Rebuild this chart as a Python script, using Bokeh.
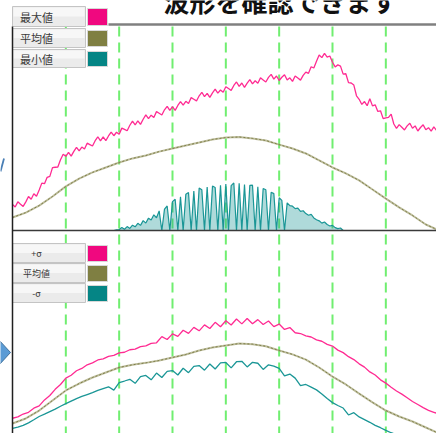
import numpy as np
from bokeh.plotting import figure
from bokeh.models import Range1d
from bokeh.embed import file_html
from bokeh.resources import INLINE
from bokeh.core.properties import value

# ---------------- data (grid divisions on x, amplitude units on y) ----------------
title_text = "波形を確認できます"
top_labels = ["最大値", "平均値", "最小値"]
bot_labels = ["+σ", "平均値", "-σ"]

# top panel: maximum (step 0.05 div)
top_max = [12.7, 11.4, 13.9, 12.8, 11.7, 13.9, 16.5, 15.2, 17.8, 16.6,
           19.7, 23.0, 22.7, 25.8, 26.3, 30.5, 30.7, 30.8, 34.3, 37.0,
           36.0, 37.9, 36.1, 38.4, 40.4, 38.7, 40.5, 39.6, 42.4, 41.7,
           41.0, 43.6, 45.5, 43.5, 45.4, 43.6, 45.9, 47.8, 46.0, 47.7,
           46.7, 49.7, 49.1, 48.4, 51.1, 53.1, 51.3, 53.2, 51.5, 54.0,
           56.1, 54.3, 56.0, 54.9, 57.7, 56.9, 56.1, 58.6, 60.3, 58.3,
           60.1, 58.3, 60.7, 62.6, 60.9, 62.7, 61.7, 64.5, 63.7, 62.9,
           65.4, 67.1, 65.0, 66.6, 64.6, 66.8, 68.6, 66.7, 68.2, 67.1,
           69.8, 68.9, 68.0, 70.4, 72.1, 70.0, 71.6, 69.5, 71.5, 73.2,
           71.2, 72.7, 71.5, 74.1, 73.1, 72.1, 74.3, 75.8, 73.5, 75.0,
           72.8, 74.4, 75.6, 73.1, 74.1, 72.4, 75.0, 74.0, 73.0, 75.3,
           76.9, 76.3, 79.5, 78.9, 82.2, 85.2, 83.9, 86.0, 84.2, 84.7,
           81.7, 79.4, 80.4, 79.8, 75.9, 76.1, 71.8, 71.6, 70.6, 65.4,
           63.7, 61.2, 62.6, 60.6, 64.0, 60.5, 61.0, 57.8, 58.1, 54.3,
           54.7, 54.9, 56.5, 51.7, 49.6, 51.4, 50.1, 48.8, 50.8, 52.1,
           49.6, 50.8, 48.3, 50.0, 51.3, 48.9, 49.9, 48.2, 50.3, 48.6]
top_max_step = 0.05

# top panel: mean (step 0.25 div)
top_mean = [6.3, 8.7, 12.1, 16.5, 21.4, 25.2, 28.2, 30.6, 33.0, 35.0,
            36.4, 38.3, 39.8, 41.3, 42.7, 44.2, 45.1, 45.4, 44.7, 43.7,
            41.7, 39.8, 37.4, 34.0, 30.6, 27.7, 24.3, 19.9, 15.5, 11.2,
            7.3, 2.9, 0.0]
top_mean_step = 0.25

# top panel: minimum (from 1.9 div, step 0.05 div)
top_min = [0.0, 0.3, 0.5, 1.5, 0.6, 1.9, 1.0, 2.6, 1.8, 3.5,
           2.5, 4.8, 3.6, 6.0, 5.1, 7.6, 6.2, 9.5, 0.0, 10.4,
           11.9, 0.0, 14.0, 15.2, 0.0, 16.3, 0.0, 17.6, 18.4, 0.0,
           19.2, 0.0, 20.6, 19.8, 0.0, 21.1, 0.0, 21.6, 20.9, 0.0,
           22.0, 0.0, 22.5, 0.0, 21.8, 23.1, 0.0, 22.9, 0.0, 22.3,
           0.0, 21.9, 22.0, 0.0, 21.2, 0.0, 20.4, 19.8, 0.0, 18.6,
           17.9, 0.0, 15.9, 14.6, 0.0, 13.4, 12.1, 11.8, 10.6, 10.9,
           9.3, 9.6, 8.2, 7.4, 7.8, 6.1, 5.2, 4.7, 3.6, 4.1,
           2.9, 2.2, 2.5, 1.4, 0.9, 1.2, 0.0]
top_min_start = 1.9
top_min_step = 0.05

# bottom panel: +sigma (step 0.1 div)
bot_plus = [7.9, 8.6, 10.1, 11.0, 13.1, 14.3, 17.4, 19.7, 22.9, 25.4,
            28.7, 30.2, 32.5, 33.7, 35.6, 36.6, 38.1, 38.7, 40.0, 40.5,
            41.8, 42.1, 43.4, 43.7, 45.0, 45.4, 46.7, 47.0, 50.2, 48.7,
            51.6, 50.3, 53.5, 51.9, 55.0, 53.2, 56.3, 54.4, 57.6, 55.3,
            58.4, 56.2, 59.3, 56.8, 59.6, 56.9, 59.0, 56.5, 58.3, 55.4,
            56.7, 53.9, 54.9, 52.2, 51.8, 50.6, 50.0, 48.5, 47.8, 46.2,
            45.3, 43.2, 41.9, 39.8, 38.3, 36.1, 34.4, 31.9, 30.3, 27.8,
            26.1, 24.0, 22.0, 20.4, 18.5, 16.6, 15.0, 13.4, 12.0, 11.0,
            10.0]
bot_plus_step = 0.1

# bottom panel: mean (step 0.25 div)
bot_mean = [5.2, 7.8, 11.9, 17.1, 22.3, 25.9, 29.0, 31.6, 34.2, 35.6,
            36.6, 37.8, 39.4, 40.9, 43.0, 44.6, 45.6, 46.6, 46.3, 45.2,
            43.0, 41.0, 38.3, 34.2, 29.5, 25.4, 20.7, 16.1, 11.9, 8.8,
            6.2, 3.1, 0.0]
bot_mean_step = 0.25

# bottom panel: -sigma (step 0.1 div)
bot_minus = [2.6, 3.3, 4.2, 5.5, 7.1, 8.8, 10.0, 11.3, 12.6, 14.1,
             15.5, 16.8, 18.1, 19.2, 20.2, 21.2, 22.3, 23.3, 24.2, 22.5,
             26.4, 27.2, 28.1, 26.0, 29.5, 30.1, 27.8, 31.3, 29.0, 32.2,
             32.6, 30.3, 33.8, 31.5, 34.8, 35.2, 32.8, 36.0, 33.4, 36.6,
             36.8, 34.0, 37.2, 37.4, 34.5, 36.9, 36.4, 33.2, 35.6, 34.9,
             33.7, 29.8, 30.8, 28.7, 24.8, 25.4, 24.0, 22.6, 20.5, 18.1,
             16.0, 14.5, 13.2, 9.6, 10.8, 8.6, 7.2, 5.8, 4.2, 3.0,
             1.6, 0.4, -0.6, -1.8, -3.0]
bot_minus_step = 0.1

divisions = [1, 2, 3, 4, 5, 6, 7]

# ---------------- layout ----------------
W, H = 436, 433
DIV = 53.333          # pixels per division
X0 = 12               # pixel of x = 0
TOP_BASE, TOP_SCALE = 230, 2.06
BOT_BASE, BOT_SCALE = 433, 1.93

PINK = "#FF2B92"
PINK_SW = "#F0087F"
OLIVE = "#A3A373"
OLIVE_DK = "#7E7E4A"
OLIVE_SW = "#7F7F42"
TEAL = "#1A9696"
TEAL_SW = "#058585"
GREEN = "#70EE70"
FONT = "Noto Sans CJK JP"


def gx(px):
    return (px - X0) / DIV


def gy(py):
    return (TOP_BASE - py) / TOP_SCALE


def xs(n, start, step):
    return list(start + step * np.arange(n))


p = figure(width=W, height=H,
           x_range=Range1d(-X0 / DIV, (W - X0) / DIV),
           y_range=Range1d((TOP_BASE - H) / TOP_SCALE, TOP_BASE / TOP_SCALE),
           output_backend="svg", toolbar_location=None,
           x_axis_location=None, y_axis_location=None,
           min_border=0, outline_line_color=None,
           background_fill_color="white", border_fill_color="white")
p.extra_y_ranges = {"low": Range1d((BOT_BASE - H) / BOT_SCALE, BOT_BASE / BOT_SCALE)}
p.grid.visible = False

# green dashed division lines
p.segment(x0=divisions, y0=[gy(26)] * len(divisions), x1=divisions, y1=[gy(440)] * len(divisions),
          line_color=GREEN, line_width=2, line_dash="10 6")

# ---- top panel series ----
xmn = xs(len(top_min), top_min_start, top_min_step)
p.varea(x=xmn, y1=[0] * len(top_min), y2=top_min, fill_color=TEAL, fill_alpha=0.35)
p.line(xmn, top_min, line_color=TEAL, line_width=1.2)
xme = xs(len(top_mean), 0.0, top_mean_step)
p.line(xme, top_mean, line_color=OLIVE, line_width=2, line_alpha=0.7)
p.line(xme, top_mean, line_color=OLIVE_DK, line_width=1, line_dash="2 2")
p.line(xs(len(top_max), 0.0, top_max_step), top_max, line_color=PINK, line_width=1.3)

# ---- bottom panel series ----
p.line(xs(len(bot_minus), 0.0, bot_minus_step), bot_minus, line_color=TEAL,
       line_width=1.3, y_range_name="low")
xbm = xs(len(bot_mean), 0.0, bot_mean_step)
p.line(xbm, bot_mean, line_color=OLIVE, line_width=2, line_alpha=0.7, y_range_name="low")
p.line(xbm, bot_mean, line_color=OLIVE_DK, line_width=1, line_dash="2 2", y_range_name="low")
p.line(xs(len(bot_plus), 0.0, bot_plus_step), bot_plus, line_color=PINK,
       line_width=1.3, y_range_name="low")

# frame lines
p.segment(x0=[gx(108)], y0=[gy(24)], x1=[gx(440)], y1=[gy(24)], line_color="#808080", line_width=2.5)
p.segment(x0=[gx(12)], y0=[gy(230)], x1=[gx(440)], y1=[gy(230)], line_color="#3A3A3A", line_width=1.5)


# legends
def legend(rows, labels, colors, size):
    for (t, b), lab, col in zip(rows, labels, colors):
        p.quad(left=[gx(12)], right=[gx(85)], top=[gy(t)], bottom=[gy(b)],
               fill_color="#EBEBEB", line_color="#C4C4C4", line_width=1)
        p.quad(left=[gx(13)], right=[gx(84)], top=[gy(t + 1)], bottom=[gy((t + b) / 2)],
               fill_color="#F7F7F7", line_color=None)
        p.quad(left=[gx(87)], right=[gx(107)], top=[gy(t + 2)], bottom=[gy(b - 1)],
               fill_color=col, line_color="#D8D8D8", line_width=1)
        p.text(x=[gx(36)], y=[gy((t + b) / 2)], text=[lab], text_font=value(FONT),
               text_font_size=size, text_color="#3A3A3A", text_align="center",
               text_baseline="middle")


legend([(6, 26), (28, 47), (49, 67)], top_labels, [PINK_SW, OLIVE_SW, TEAL_SW], "11px")
legend([(243, 262), (263, 282), (283, 302)], bot_labels, [PINK_SW, OLIVE_SW, TEAL_SW], "9px")

# left axis line
p.segment(x0=[gx(12)], y0=[gy(26)], x1=[gx(12)], y1=[gy(440)], line_color="#202020", line_width=1.5)

# title (cut off at the top edge, as in the source screenshot)
p.text(x=[gx(163)], y=[gy(0)], text=[title_text], text_font=value(FONT),
       text_font_size="26px", text_font_style="bold", text_color="#111111",
       text_align="left", text_baseline="middle")

# blue arrow pieces at left edge
p.patch(x=[gx(-2), gx(10), gx(-2)], y=[gy(339), gy(352), gy(365)],
        fill_color="#5B9BD5", line_color="#41719C", line_width=1)
p.segment(x0=[gx(3.5)], y0=[gy(158)], x1=[gx(0)], y1=[gy(171)], line_color="#4A7FB5", line_width=1.8)

open("out.html", "w").write(file_html(p, INLINE))
